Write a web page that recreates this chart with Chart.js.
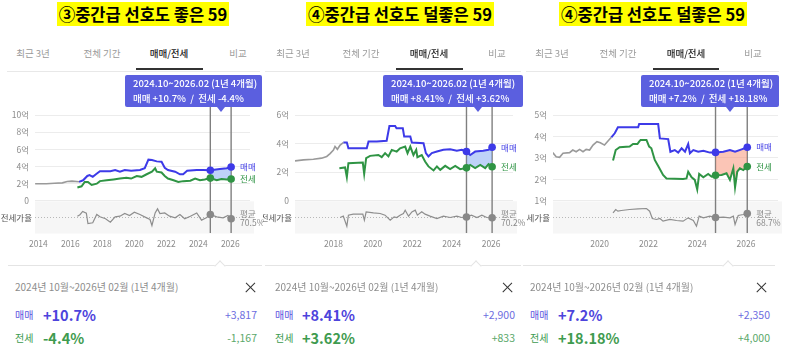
<!DOCTYPE html>
<html>
<head>
<meta charset="utf-8">
<script src="https://cdn.jsdelivr.net/npm/chart.js@4.4.1/dist/chart.umd.min.js"></script>
<style>
  body { margin: 0; background: #fff; font-family: 'Noto Sans CJK KR', 'Noto Sans', sans-serif; }
  #wrap { position: relative; width: 789px; height: 359px; overflow: hidden; background: #fff; }
  .a { position: absolute; white-space: nowrap; }
  .title { font-weight: 700; font-size: 16.5px; line-height: 18px; color: #000; text-align: center; }
  .title span { background: #ffff00; padding: 0 2px; }
  .tab { font-size: 9.5px; line-height: 12px; color: #9a9a9a; transform: translateX(-50%); }
  .tab.on { color: #222; font-weight: 500; }
  .tip { background: #5b5fdf; border-radius: 2px; color: #fff; font-size: 9.5px; font-weight: 500; }
  .tip div { position: absolute; left: 8px; line-height: 13px; white-space: nowrap; }
  .arrow { width: 0; height: 0; border-left: 4px solid transparent; border-right: 4px solid transparent; border-top: 5px solid #5b5fdf; }
  .notch { width: 7px; height: 7px; background: #fff; border-left: 1px solid #e4e4e4; border-top: 1px solid #e4e4e4; transform: rotate(45deg); }
  .x1, .x2 { width: 13px; height: 1.4px; background: #333; }
  .x1 { transform: rotate(45deg); } .x2 { transform: rotate(-45deg); }
  canvas { position: absolute; }
</style>
</head>
<body>
<div id="wrap"></div>
<script>
// ---- data (억원, 전세가율 %) ----
const rangeStart = 2024.75;
const rangeEnd = 2026.05;

// panel 1
const p1EarlyX = [2013.8, 2014.5, 2015.0, 2015.5, 2015.8, 2016.1, 2016.54];
const p1EarlyY = [2.0, 2.0, 2.05, 2.1, 2.25, 2.3, 2.22];
const p1SaleX = [2016.54, 2016.8, 2017.06, 2017.2, 2017.4, 2017.6, 2017.85, 2018.5, 2018.8, 2019.1, 2019.4, 2019.8, 2020.35, 2020.65, 2020.88, 2021.1, 2021.4, 2021.7, 2021.9, 2022.1, 2022.55, 2022.85, 2023.05, 2023.3, 2023.9, 2024.3, 2024.75, 2025.35, 2025.77, 2026.05];
const p1SaleY = [2.22, 2.4, 2.9, 3.0, 2.8, 3.1, 3.45, 3.45, 3.6, 3.4, 3.6, 3.5, 3.6, 3.8, 4.8, 4.75, 4.6, 4.55, 3.85, 3.6, 3.4, 3.1, 3.1, 3.5, 3.6, 3.6, 3.57, 3.7, 3.8, 3.95];
const p1JeonseX = [2016.44, 2016.7, 2016.9, 2017.1, 2017.33, 2017.65, 2017.85, 2018.27, 2018.7, 2019.1, 2019.5, 2019.8, 2020.15, 2020.45, 2020.77, 2021.1, 2021.3, 2021.4, 2021.7, 2021.9, 2022.1, 2022.45, 2022.75, 2023.05, 2023.5, 2023.8, 2024.1, 2024.4, 2024.75, 2025.15, 2025.45, 2025.77, 2026.05];
const p1JeonseY = [1.56, 1.7, 2.2, 2.2, 1.85, 2.0, 2.3, 2.4, 2.5, 2.6, 2.7, 2.6, 2.9, 2.8, 3.1, 3.4, 3.8, 3.4, 3.3, 2.9, 2.6, 2.4, 2.2, 2.3, 2.35, 2.6, 2.4, 2.5, 2.65, 2.4, 2.55, 2.5, 2.54];
const p1RatioX = [2016.44, 2016.6, 2016.77, 2017.0, 2017.1, 2017.4, 2017.65, 2017.85, 2018.2, 2018.5, 2018.8, 2019.1, 2019.4, 2019.7, 2020.0, 2020.35, 2020.77, 2020.98, 2021.1, 2021.3, 2021.45, 2021.6, 2021.9, 2022.2, 2022.55, 2022.85, 2023.15, 2023.5, 2023.9, 2024.2, 2024.5, 2024.75, 2025.15, 2025.55, 2025.85, 2026.05];
const p1RatioY = [71.6, 74, 79.5, 76.6, 59.4, 60.5, 74.4, 70.5, 67.2, 61.6, 70.5, 71.6, 76, 72.7, 78.3, 74.4, 68.8, 66, 56, 77, 83.8, 76, 77, 71.6, 68.8, 74.4, 67.2, 71.6, 77, 65, 68.8, 74.4, 70.5, 68.8, 72.7, 67.2];

// panel 2
const p2EarlyX = [2016.05, 2016.48, 2016.98, 2017.4, 2017.66, 2017.83, 2018.0, 2018.08, 2018.2, 2018.34, 2018.5];
const p2EarlyY = [2.79, 2.86, 2.9, 2.98, 3.1, 3.3, 3.55, 3.8, 3.6, 3.9, 4.07];
const p2SaleX = [2018.5, 2018.68, 2018.76, 2019.69, 2019.78, 2020.2, 2020.7, 2020.84, 2021.13, 2021.2, 2021.52, 2021.59, 2021.9, 2021.98, 2022.57, 2022.69, 2022.82, 2022.99, 2023.25, 2023.58, 2023.92, 2024.26, 2024.51, 2024.75, 2024.94, 2025.19, 2025.6, 2025.87, 2026.05];
const p2SaleY = [4.07, 4.07, 3.67, 3.67, 4.14, 4.14, 4.2, 5.23, 5.23, 5.07, 5.07, 4.49, 4.49, 4.07, 4.02, 3.33, 3.1, 3.33, 3.44, 3.56, 3.6, 3.5, 3.56, 3.45, 3.2, 3.44, 3.5, 3.56, 3.74];
const p2JeonseX = [2018.3, 2018.59, 2018.68, 2018.76, 2019.49, 2019.56, 2019.66, 2019.86, 2020.28, 2020.45, 2020.62, 2020.79, 2020.96, 2021.21, 2021.38, 2021.64, 2021.76, 2021.9, 2022.06, 2022.2, 2022.26, 2022.48, 2022.65, 2022.82, 2023.08, 2023.25, 2023.42, 2023.67, 2023.92, 2024.18, 2024.43, 2024.75, 2024.94, 2025.19, 2025.45, 2025.7, 2025.87, 2026.05];
const p2JeonseY = [2.28, 2.33, 1.65, 2.63, 2.67, 1.88, 2.98, 3.14, 3.2, 3.05, 3.33, 3.1, 3.56, 3.44, 3.67, 3.79, 3.33, 3.79, 3.2, 3.56, 3.05, 3.2, 2.74, 2.4, 2.12, 2.4, 2.16, 2.44, 2.21, 2.44, 2.21, 2.3, 2.5, 2.28, 2.5, 2.28, 2.56, 2.38];
const p2RatioX = [2018.34, 2018.5, 2018.68, 2018.76, 2019.0, 2019.49, 2019.57, 2019.66, 2020.03, 2020.37, 2020.62, 2020.88, 2021.08, 2021.21, 2021.38, 2021.55, 2021.64, 2021.81, 2021.98, 2022.15, 2022.26, 2022.48, 2022.65, 2022.9, 2023.25, 2023.58, 2023.92, 2024.26, 2024.51, 2024.75, 2025.0, 2025.28, 2025.53, 2025.78, 2026.05];
const p2RatioY = [69.1, 71.3, 54.6, 73, 74.7, 74.7, 64.6, 78.5, 76.9, 75.8, 73, 64.6, 70.2, 69.1, 73, 75.8, 81.3, 71.3, 78.5, 81.3, 73, 78.5, 74.7, 71.3, 67.4, 71.3, 69.1, 71.3, 69.1, 70, 73, 69.1, 73, 69.1, 68.6];

// panel 3
const p3EarlyX = [2018.08, 2018.22, 2018.36, 2018.5, 2018.77, 2018.9, 2019.04, 2019.18, 2019.32, 2019.45, 2019.59, 2019.73, 2019.89, 2020.03, 2020.2, 2020.38, 2020.48];
const p3EarlyY = [3.25, 3.06, 3.03, 3.22, 3.25, 3.37, 3.29, 3.4, 3.29, 3.4, 3.37, 3.6, 3.76, 3.71, 3.6, 3.84, 3.96];
const p3SaleX = [2020.48, 2020.62, 2020.75, 2021.58, 2021.62, 2022.4, 2022.47, 2022.81, 2022.9, 2023.08, 2023.22, 2023.36, 2023.5, 2023.63, 2023.7, 2023.84, 2024.04, 2024.25, 2024.52, 2024.75, 2025.07, 2025.34, 2025.55, 2025.82, 2026.05];
const p3SaleY = [3.96, 4.15, 4.43, 4.43, 4.58, 4.58, 3.91, 3.88, 3.29, 3.37, 3.25, 3.45, 3.29, 3.65, 3.22, 3.37, 3.29, 3.34, 3.25, 3.26, 3.29, 3.37, 3.29, 3.4, 3.5];
const p3JeonseX = [2020.55, 2020.66, 2020.82, 2021.23, 2021.37, 2021.55, 2021.62, 2021.68, 2021.92, 2022.03, 2022.12, 2022.26, 2022.4, 2022.6, 2022.74, 2023.42, 2023.56, 2023.63, 2023.77, 2023.9, 2024.0, 2024.08, 2024.25, 2024.45, 2024.59, 2024.75, 2025.0, 2025.2, 2025.34, 2025.48, 2025.55, 2025.64, 2025.75, 2025.89, 2026.05];
const p3JeonseY = [2.88, 3.37, 3.5, 3.53, 3.65, 3.65, 3.76, 3.84, 3.84, 3.53, 3.45, 2.91, 2.63, 2.21, 2.05, 2.02, 2.05, 2.36, 2.1, 1.98, 1.54, 2.26, 2.1, 2.26, 2.13, 2.2, 2.21, 2.29, 1.98, 2.52, 1.64, 2.36, 2.52, 2.44, 2.6];
const p3RatioX = [2020.55, 2020.66, 2020.75, 2020.89, 2021.23, 2021.58, 2021.92, 2022.05, 2022.16, 2022.33, 2022.47, 2022.6, 2022.88, 2023.15, 2023.42, 2023.63, 2023.84, 2023.97, 2024.08, 2024.25, 2024.52, 2024.75, 2025.07, 2025.34, 2025.48, 2025.55, 2025.68, 2025.89, 2026.05];
const p3RatioY = [75.4, 80.9, 78.1, 79.3, 80.9, 82, 82.6, 78.1, 65.9, 64.3, 65.9, 61.5, 64.3, 62.6, 61.5, 67, 62.6, 53.1, 69.8, 67, 69.8, 67.5, 68.1, 67, 69.8, 56, 70.9, 72.6, 74.3];

const tabLabels = ['최근 3년', '전체 기간', '매매/전세', '비교'];

// ---- panels (layout + text) ----
const panels = [
  {
    left: 0, title: '③중간급 선호도 좋은 59', titleX: 143,
    tabs: [33, 102, 169, 238], ul: [136, 203], rule: [7, 260],
    tip: [125, 262], arrow: 221,
    line: [8, 262], notch: 220, textL: 15, pctL: 43, closeX: 250, valR: 257,
    salePct: '+10.7%', jeonsePct: '-4.4%', saleAmt: '+3,817', jeonseAmt: '-1,167', avg: 70.5,
    yW: 35, padR: 13, xMin: 2013.79, xMax: 2027.23, yMin: -3.74, yMax: 10, base: 0,
    yTicks: [0, 2, 4, 6, 8, 10], xTicks: [2014, 2016, 2018, 2020, 2022, 2024, 2026],
    early: [p1EarlyX, p1EarlyY], sale: [p1SaleX, p1SaleY], jeonse: [p1JeonseX, p1JeonseY], ratio: [p1RatioX, p1RatioY],
    fill: 'rgba(110,155,240,0.45)'
  },
  {
    left: 263, title: '④중간급 선호도 덜좋은 59', titleX: 400,
    tabs: [293, 361, 429, 497], ul: [396, 463], rule: [265, 521],
    tip: [383, 523], arrow: 478,
    line: [265, 521], notch: 476, textL: 275, pctL: 302, closeX: 507, valR: 515,
    salePct: '+8.41%', jeonsePct: '+3.62%', saleAmt: '+2,900', jeonseAmt: '+833', avg: 70.2,
    yW: 32, padR: 13, xMin: 2016.05, xMax: 2027.11, yMin: -2.26, yMax: 6, base: 0,
    yTicks: [0, 2, 4, 6], xTicks: [2018, 2020, 2022, 2024, 2026],
    early: [p2EarlyX, p2EarlyY], sale: [p2SaleX, p2SaleY], jeonse: [p2JeonseX, p2JeonseY], ratio: [p2RatioX, p2RatioY],
    fill: 'rgba(110,155,240,0.45)'
  },
  {
    left: 526, title: '④중간급 선호도 덜좋은 59', titleX: 653,
    tabs: [552, 618, 686, 753], ul: [653, 719], rule: [526, 779],
    tip: [641, 779], arrow: 730,
    line: [523, 775], notch: 728, textL: 530, pctL: 558, closeX: 761, valR: 770,
    salePct: '+7.2%', jeonsePct: '+18.18%', saleAmt: '+2,350', jeonseAmt: '+4,000', avg: 68.7,
    yW: 27, padR: 11, xMin: 2018.09, xMax: 2027.31, yMin: -0.49, yMax: 5, base: 1,
    yTicks: [1, 2, 3, 4, 5], xTicks: [2020, 2022, 2024, 2026],
    early: [p3EarlyX, p3EarlyY], sale: [p3SaleX, p3SaleY], jeonse: [p3JeonseX, p3JeonseY], ratio: [p3RatioX, p3RatioY],
    fill: 'rgba(248,140,110,0.5)'
  }
];

const BLUE = '#3d3ae8', GREEN = '#2f9444', GRAY = '#8e8e8e';
const FONT = "'Noto Sans CJK KR', 'Noto Sans', sans-serif";
const wrap = document.getElementById('wrap');

function el(cls, css, html) {
  const d = document.createElement('div');
  d.className = 'a ' + (cls || '');
  Object.assign(d.style, css);
  if (html !== undefined) d.innerHTML = html;
  wrap.appendChild(d);
  return d;
}
function pts(xs, ys) { return xs.map((x, i) => ({ x: x, y: ys[i] })); }
function inRange(xs, ys) {
  return pts(xs, ys).filter(p => p.x >= rangeStart - 0.001 && p.x <= rangeEnd + 0.001);
}
function isEdge(c) {
  const x = c.raw && c.raw.x;
  return Math.abs(x - rangeStart) < 0.001 || Math.abs(x - rangeEnd) < 0.001;
}

// draws band, dotted average, range lines and side labels
const overlay = {
  id: 'overlay',
  beforeDatasetsDraw(chart, args, o) {
    const { ctx, chartArea: a, scales } = chart;
    const x = scales.x, y = scales.y, yr = scales.yr;
    ctx.save();
    const by = y.getPixelForValue(o.base);
    ctx.fillStyle = '#f6f6f6';
    ctx.fillRect(a.left, by + 0.5, a.right - a.left + 4, a.bottom - by);
    const ay = Math.round(yr.getPixelForValue(o.avg)) + 0.5;
    ctx.strokeStyle = '#b8b8b8';
    ctx.lineWidth = 1;
    ctx.setLineDash([1, 2]);
    ctx.beginPath(); ctx.moveTo(a.left, ay); ctx.lineTo(a.right, ay); ctx.stroke();
    ctx.setLineDash([]);
    ctx.strokeStyle = '#7f7f7f';
    ctx.lineWidth = 1.4;
    [rangeStart, rangeEnd].forEach(v => {
      const px = x.getPixelForValue(v);
      ctx.beginPath(); ctx.moveTo(px, 7); ctx.lineTo(px, a.bottom); ctx.stroke();
    });
    ctx.font = '8.5px ' + FONT;
    ctx.fillStyle = '#555';
    ctx.textAlign = 'right';
    ctx.textBaseline = 'middle';
    ctx.fillText('전세가율', a.left - 3, ay);
    ctx.restore();
  },
  afterDatasetsDraw(chart, args, o) {
    const { ctx, scales } = chart;
    const x = scales.x, y = scales.y, yr = scales.yr;
    const ds = chart.data.datasets;
    const lastS = ds[1].data[ds[1].data.length - 1];
    const lastJ = ds[2].data[ds[2].data.length - 1];
    const lx = x.getPixelForValue(rangeEnd) + 9;
    const ay = yr.getPixelForValue(o.avg);
    ctx.save();
    ctx.font = '8.5px ' + FONT;
    ctx.textAlign = 'left';
    ctx.textBaseline = 'middle';
    ctx.fillStyle = '#4a47e6';
    ctx.fillText('매매', lx, y.getPixelForValue(lastS.y));
    ctx.fillStyle = '#2f9444';
    ctx.fillText('전세', lx, y.getPixelForValue(lastJ.y));
    ctx.fillStyle = '#8a8a8a';
    ctx.fillText('평균', lx, ay - 3);
    ctx.fillText(o.avg + '%', lx, ay + 6);
    ctx.restore();
  }
};

panels.forEach((p, i) => {
  // title
  el('title', { left: (p.titleX - 120) + 'px', top: '5px', width: '240px' }, '<span>' + p.title + '</span>');
  // tabs
  tabLabels.forEach((t, k) => {
    el('tab' + (k === 2 ? ' on' : ''), { left: p.tabs[k] + 'px', top: '47px' }, t);
  });
  el('', { left: p.rule[0] + 'px', top: '71px', width: (p.rule[1] - p.rule[0]) + 'px', height: '1px', background: '#e8e8e8' });
  el('', { left: p.ul[0] + 'px', top: '68px', width: (p.ul[1] - p.ul[0]) + 'px', height: '2px', background: '#333' });

  // chart
  const cv = document.createElement('canvas');
  cv.width = 263; cv.height = 155;
  cv.style.left = p.left + 'px'; cv.style.top = '100px';
  cv.style.width = '263px'; cv.style.height = '155px';
  wrap.appendChild(cv);

  const rMin = p.avg - 27;
  new Chart(cv, {
    type: 'line',
    data: {
      datasets: [
        { data: pts(p.early[0], p.early[1]), borderColor: '#9a9a9a', borderWidth: 1.6, pointRadius: 0 },
        { data: pts(p.sale[0], p.sale[1]), borderColor: BLUE, borderWidth: 2, pointRadius: c => isEdge(c) ? 3.8 : 0,
          pointBackgroundColor: BLUE, pointBorderWidth: 0 },
        { data: pts(p.jeonse[0], p.jeonse[1]), borderColor: GREEN, borderWidth: 2, pointRadius: c => isEdge(c) ? 3.8 : 0,
          pointBackgroundColor: GREEN, pointBorderWidth: 0 },
        { data: pts(p.ratio[0], p.ratio[1]), yAxisID: 'yr', borderColor: GRAY, borderWidth: 1.2,
          pointRadius: c => isEdge(c) ? 3.8 : 0, pointBackgroundColor: '#888', pointBorderWidth: 0 },
        { data: inRange(p.sale[0], p.sale[1]), borderWidth: 0, borderColor: 'transparent', pointRadius: 0, fill: false },
        { data: inRange(p.jeonse[0], p.jeonse[1]), borderWidth: 0, borderColor: 'transparent', pointRadius: 0,
          fill: '-1', backgroundColor: p.fill }
      ]
    },
    options: {
      responsive: false,
      animation: false,
      events: [],
      layout: { padding: { left: 0, right: p.padR, top: 15, bottom: 0 } },
      plugins: { legend: { display: false }, tooltip: { enabled: false }, overlay: { base: p.base, avg: p.avg } },
      scales: {
        x: {
          type: 'linear', min: p.xMin, max: p.xMax,
          afterBuildTicks: s => { s.ticks = p.xTicks.map(v => ({ value: v })); },
          afterFit: s => { s.height = 22; },
          grid: { display: false, drawTicks: false },
          border: { display: false },
          ticks: { padding: 6, maxRotation: 0, autoSkip: false, color: '#8c8c8c', font: { family: FONT, size: 8.5 },
            callback: v => String(v) }
        },
        y: {
          min: p.yMin, max: p.yMax,
          afterBuildTicks: s => { s.ticks = p.yTicks.map(v => ({ value: v })); },
          afterFit: s => { s.width = p.yW; },
          grid: { color: '#ececec', drawTicks: false },
          border: { display: false },
          ticks: { padding: 6, color: '#8c8c8c', font: { family: FONT, size: 8.5 },
            callback: v => (v === 0 ? '0' : v + '억') }
        },
        yr: { display: false, min: rMin, max: rMin + 197 }
      }
    },
    plugins: [overlay]
  });

  // range tooltip
  const tip = el('tip', { left: p.tip[0] + 'px', top: '75px', width: (p.tip[1] - p.tip[0]) + 'px', height: '32px' });
  tip.innerHTML = '<div style="top:1.5px">2024.10~2026.02 (1년 4개월)</div>' +
    '<div style="top:16.5px">매매 ' + p.salePct + ' &nbsp;/&nbsp; 전세 ' + p.jeonsePct + '</div>';
  el('arrow', { left: (p.arrow - 4) + 'px', top: '107px' });

  // summary
  el('', { left: p.line[0] + 'px', top: '265px', width: (p.line[1] - p.line[0]) + 'px', height: '1px', background: '#e4e4e4' });
  el('notch', { left: (p.notch - 4) + 'px', top: '262px' });
  el('', { left: p.textL + 'px', top: '280px', fontSize: '10px', lineHeight: '14px', color: '#8d8d8d' },
    '2024년 10월~2026년 02월 (1년 4개월)');
  el('x1', { left: (p.closeX - 6.5) + 'px', top: '286.5px' });
  el('x2', { left: (p.closeX - 6.5) + 'px', top: '286.5px' });

  el('', { left: p.textL + 'px', top: '308px', fontSize: '10px', lineHeight: '14px', color: '#5a52e0' }, '매매');
  el('', { left: p.pctL + 'px', top: '305px', fontSize: '14.5px', lineHeight: '20px', fontWeight: '700', color: '#4d44dc' }, p.salePct);
  el('', { right: (789 - p.valR) + 'px', top: '308px', fontSize: '10.5px', lineHeight: '14px', color: '#6d6de0' }, p.saleAmt);

  el('', { left: p.textL + 'px', top: '331px', fontSize: '10px', lineHeight: '14px', color: '#3d9a50' }, '전세');
  el('', { left: p.pctL + 'px', top: '328px', fontSize: '14.5px', lineHeight: '20px', fontWeight: '700', color: '#3f9b4f' }, p.jeonsePct);
  el('', { right: (789 - p.valR) + 'px', top: '331px', fontSize: '10.5px', lineHeight: '14px', color: '#5aa86a' }, p.jeonseAmt);
});
</script>
</body>
</html>
